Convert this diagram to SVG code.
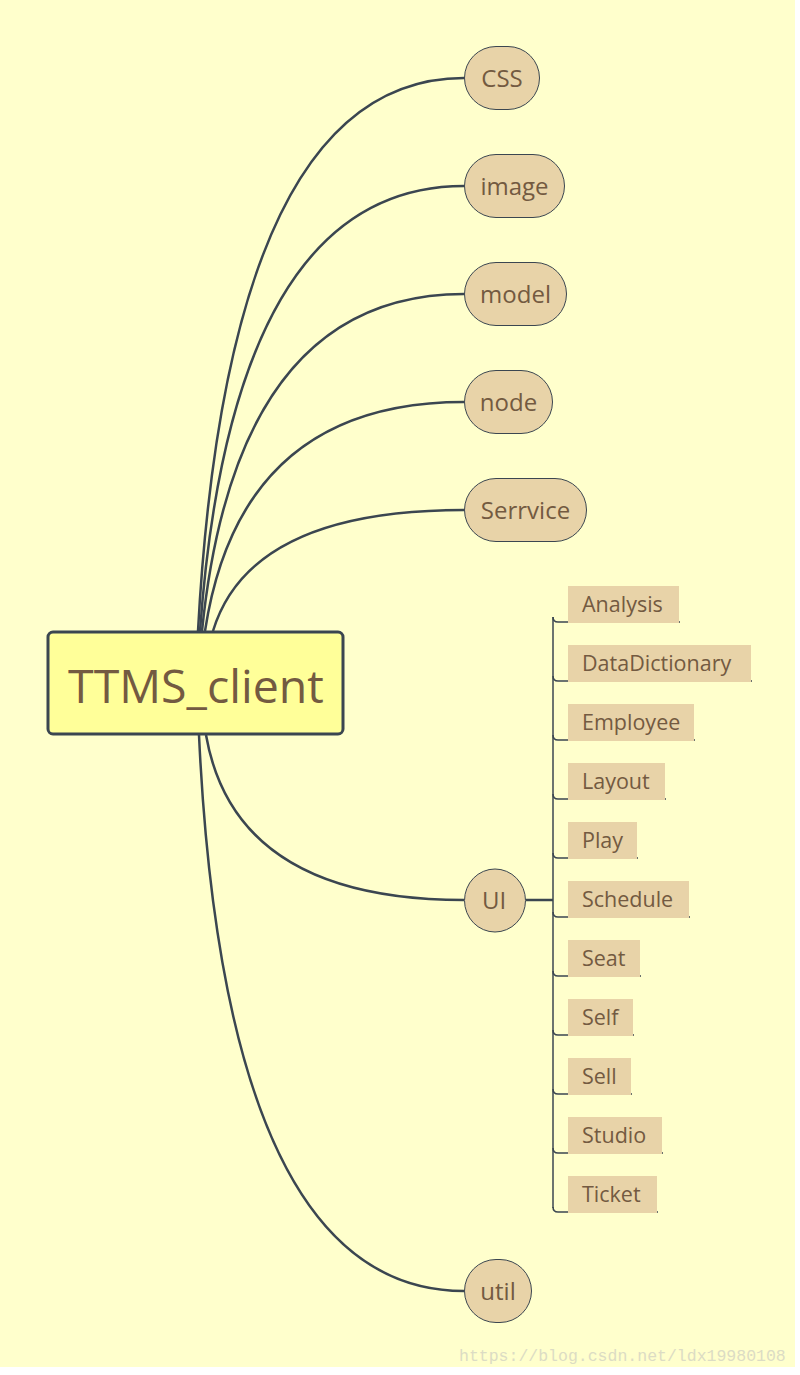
<svg xmlns="http://www.w3.org/2000/svg" width="800" height="1375" viewBox="0 0 800 1375">
<style>
.bg{fill:#ffffcc}
.conn{fill:none;stroke:#3b4650;stroke-width:2.5}
.br{fill:none;stroke:#3b4650;stroke-width:1.5}
.pill{fill:#e8d3a8;stroke:#3b4650;stroke-width:1}
.box{fill:#e8d3a8}
.t{font-family:"Open Sans","Noto Sans",sans-serif;fill:#735a41}
.nt{font-size:24px;text-anchor:middle}
.ct{font-size:21.5px}
</style>
<rect x="0" y="0" width="800" height="1375" fill="#ffffff"/>
<rect class="bg" x="0" y="0" width="795" height="1367"/>
<g id="connectors">
<path class="conn" d="M198 631 Q228 78 464 78"/>
<path class="conn" d="M200 631 Q232 186 464 186"/>
<path class="conn" d="M202 631 Q236 294 464 294"/>
<path class="conn" d="M205 631 Q240 402 464 402"/>
<path class="conn" d="M213 631 Q250 510 464 510"/>
<path class="conn" d="M206 735 Q235 900 464 900"/>
<path class="conn" d="M199 735 Q225 1291 464 1291"/>
<path class="conn" d="M526 900 H553"/>
<path class="br" d="M553 617 V1208"/>
<path class="br" d="M553 617 Q553 622 558 622 H680"/>
<path class="br" d="M553 676 Q553 681 558 681 H752"/>
<path class="br" d="M553 735 Q553 740 558 740 H695"/>
<path class="br" d="M553 794 Q553 799 558 799 H666"/>
<path class="br" d="M553 853 Q553 858 558 858 H638"/>
<path class="br" d="M553 912 Q553 917 558 917 H690"/>
<path class="br" d="M553 971 Q553 976 558 976 H641"/>
<path class="br" d="M553 1030 Q553 1035 558 1035 H634"/>
<path class="br" d="M553 1089 Q553 1094 558 1094 H632"/>
<path class="br" d="M553 1148 Q553 1153 558 1153 H663"/>
<path class="br" d="M553 1207 Q553 1212 558 1212 H658"/>
</g>
<g id="root">
<rect x="48" y="632" width="295" height="102" rx="5" fill="#ffff99" stroke="#3b4650" stroke-width="3"/>
<text class="t" x="196" y="703" font-size="46.5" text-anchor="middle">TTMS_client</text>
</g>
<g id="css"><rect class="pill" x="464.5" y="46.5" width="75" height="63" rx="31.5"/><text class="t nt" x="502" y="87">CSS</text></g>
<g id="image"><rect class="pill" x="464.5" y="154.5" width="100" height="63" rx="31.5"/><text class="t nt" x="514.5" y="195">image</text></g>
<g id="model"><rect class="pill" x="464.5" y="262.5" width="102" height="63" rx="31.5"/><text class="t nt" x="515.5" y="303">model</text></g>
<g id="node"><rect class="pill" x="464.5" y="370.5" width="88" height="63" rx="31.5"/><text class="t nt" x="508.5" y="411">node</text></g>
<g id="serrvice"><rect class="pill" x="464.5" y="478.5" width="122" height="63" rx="31.5"/><text class="t nt" x="525.5" y="519">Serrvice</text></g>
<g id="ui"><ellipse class="pill" cx="495" cy="900.5" rx="30.5" ry="31.5"/><text class="t nt" x="494" y="909">UI</text></g>
<g id="util"><rect class="pill" x="464.5" y="1259.5" width="67" height="63" rx="31.5"/><text class="t nt" x="498" y="1300">util</text></g>
<g id="analysis"><rect class="box" x="568" y="586" width="111" height="37"/><text class="t ct" x="582" y="612">Analysis</text></g>
<g id="datadictionary"><rect class="box" x="568" y="645" width="183" height="37"/><text class="t ct" x="582" y="671">DataDictionary</text></g>
<g id="employee"><rect class="box" x="568" y="704" width="126" height="37"/><text class="t ct" x="582" y="730">Employee</text></g>
<g id="layout"><rect class="box" x="568" y="763" width="97" height="37"/><text class="t ct" x="582" y="789">Layout</text></g>
<g id="play"><rect class="box" x="568" y="822" width="69" height="37"/><text class="t ct" x="582" y="848">Play</text></g>
<g id="schedule"><rect class="box" x="568" y="881" width="121" height="37"/><text class="t ct" x="582" y="907">Schedule</text></g>
<g id="seat"><rect class="box" x="568" y="940" width="72" height="37"/><text class="t ct" x="582" y="966">Seat</text></g>
<g id="self"><rect class="box" x="568" y="999" width="65" height="37"/><text class="t ct" x="582" y="1025">Self</text></g>
<g id="sell"><rect class="box" x="568" y="1058" width="63" height="37"/><text class="t ct" x="582" y="1084">Sell</text></g>
<g id="studio"><rect class="box" x="568" y="1117" width="94" height="37"/><text class="t ct" x="582" y="1143">Studio</text></g>
<g id="ticket"><rect class="box" x="568" y="1176" width="89" height="37"/><text class="t ct" x="582" y="1202">Ticket</text></g>
<text x="459" y="1361" font-family="Liberation Mono, monospace" font-size="16.5" fill="#dcdcc4">https://blog.csdn.net/ldx19980108</text>
</svg>
